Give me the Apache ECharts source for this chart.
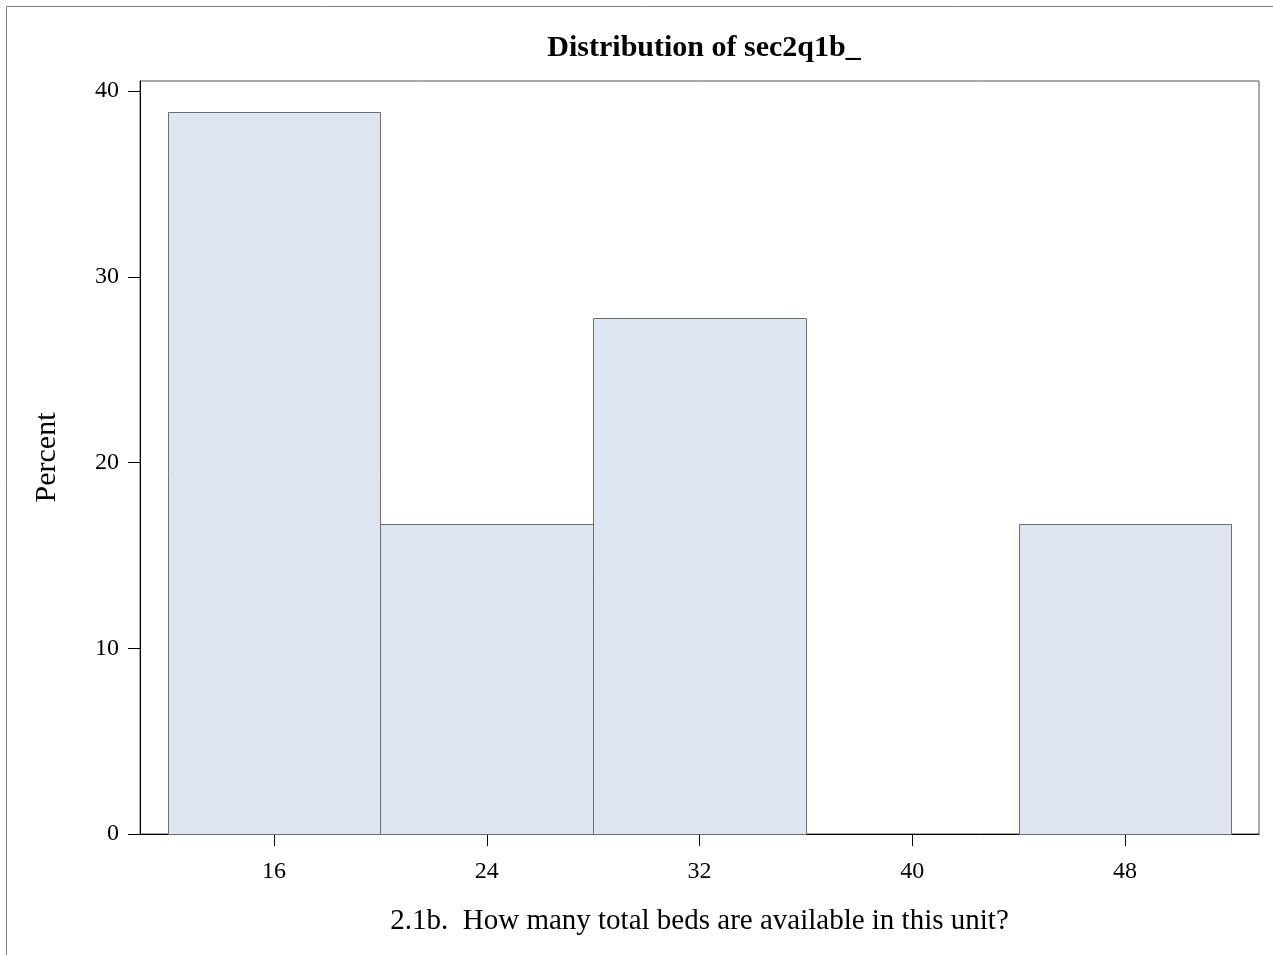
<!DOCTYPE html>
<html>
<head>
<meta charset="utf-8">
<script src="https://cdn.jsdelivr.net/npm/echarts@6/dist/echarts.min.js"></script>
<style>html,body{margin:0;padding:0;background:#fff}#c{width:1273px;height:955px}</style>
</head>
<body>
<div id="c"></div>
<script>
var binStart = [12, 20, 28, 36, 44];
var binEnd = [20, 28, 36, 44, 52];
var percent = [38.89, 16.67, 27.78, 0, 16.67];
var xTicks = [16, 24, 32, 40, 48];
var yTicks = [0, 10, 20, 30, 40];

var data = binStart.map(function (s, i) { return [s, binEnd[i], percent[i]]; }).filter(function (d) { return d[2] > 0; });

var chart = echarts.init(document.getElementById('c'), null, {renderer: 'canvas'});
var font = 'Liberation Serif, Times New Roman, serif';
chart.setOption({
  animation: false,
  backgroundColor: '#fff',
  title: {
    text: 'Distribution of sec2q1b_',
    left: 699, top: 28, textAlign: 'center',
    textStyle: {fontFamily: font, fontSize: 30, fontWeight: 'bold', color: '#000'}
  },
  graphic: [{
    type: 'rect', silent: true,
    shape: {x: 6.5, y: 6.5, width: 1300, height: 1000},
    style: {fill: 'none', stroke: '#808080', lineWidth: 1}
  }],
  grid: {left: 140, right: 14, top: 81, bottom: 121, show: true, borderColor: '#555', borderWidth: 1, backgroundColor: 'transparent'},
  xAxis: {
    type: 'value', min: 10.96, max: 53.04,
    name: '2.1b.  How many total beds are available in this unit?',
    nameLocation: 'middle', nameGap: 73,
    nameTextStyle: {fontFamily: font, fontSize: 29, color: '#000'},
    axisLine: {show: true, lineStyle: {color: '#000', width: 1}},
    axisTick: {show: true, length: 12, customValues: xTicks, lineStyle: {color: '#000'}},
    axisLabel: {customValues: xTicks, margin: 26, fontFamily: font, fontSize: 24, color: '#000'},
    splitLine: {show: false}
  },
  yAxis: {
    type: 'value', min: 0, max: 40.54,
    name: 'Percent', nameLocation: 'middle', nameGap: 78, nameRotate: 90,
    nameTextStyle: {fontFamily: font, fontSize: 30, color: '#000'},
    axisLine: {show: true, lineStyle: {color: '#000', width: 1}},
    axisTick: {show: true, length: 12, customValues: yTicks, lineStyle: {color: '#000'}},
    axisLabel: {customValues: yTicks, margin: 21, fontFamily: font, fontSize: 24, color: '#000'},
    splitLine: {show: false}
  },
  series: [{
    type: 'custom',
    data: data,
    encode: {x: [0, 1], y: 2},
    renderItem: function (params, api) {
      var p0 = api.coord([api.value(0), 0]);
      var p1 = api.coord([api.value(1), api.value(2)]);
      return {
        type: 'rect',
        shape: {x: Math.round(p0[0]) + 0.5, y: Math.round(p1[1]) + 0.5, width: Math.round(p1[0]) - Math.round(p0[0]), height: Math.round(p0[1]) - Math.round(p1[1])},
        style: {fill: '#DCE5F1', stroke: '#6e6e6e', lineWidth: 1}
      };
    }
  }]
});
</script>
</body>
</html>
